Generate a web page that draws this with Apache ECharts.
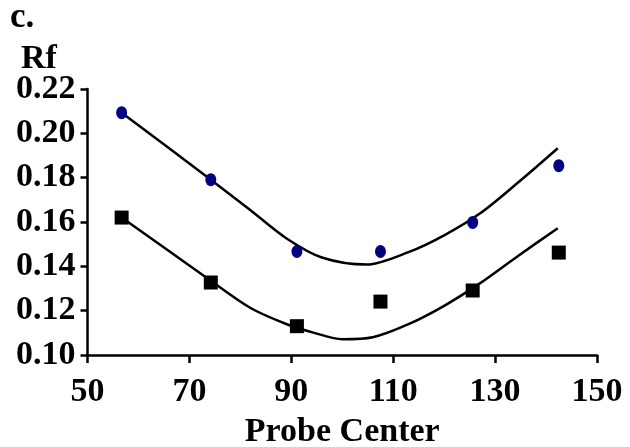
<!DOCTYPE html>
<html>
<head>
<meta charset="utf-8">
<script src="https://cdn.jsdelivr.net/npm/echarts@6/dist/echarts.min.js"></script>
<style>html,body{margin:0;padding:0;background:#fff}#c{width:630px;height:447px}</style>
</head>
<body>
<div id="c"></div>
<script>
// Measured points
const xValues = [56.7, 74.2, 91.1, 107.5, 125.6, 142.5];
const circleValues = [0.2093, 0.1791, 0.1467, 0.1467, 0.1598, 0.1854];
const squareValues = [0.1620, 0.1327, 0.1130, 0.1241, 0.1291, 0.1462];
// Trend curves
const upperCurveX = [56.7, 65.5, 74.2, 82, 89, 96, 104.8, 113, 120, 127, 134.5, 142.3];
const upperCurve  = [0.2093, 0.1942, 0.1791, 0.1653, 0.1527, 0.1440, 0.1408, 0.1464, 0.1540, 0.1638, 0.1778, 0.1933];
const lowerCurveX = [56.7, 65.5, 74.2, 82, 89, 94.5, 100, 106, 113, 120, 127, 134.5, 142.3];
const lowerCurve  = [0.1620, 0.1477, 0.1335, 0.1212, 0.1140, 0.1100, 0.1071, 0.1080, 0.1139, 0.1222, 0.1323, 0.1447, 0.1572];
const xTicks = [50, 70, 90, 110, 130, 150];
const yTicks = [0.10, 0.12, 0.14, 0.16, 0.18, 0.20, 0.22];

const pairs = (xs, ys) => xs.map((x, i) => [x, ys[i]]);
const font = 'Liberation Serif';

const chart = echarts.init(document.getElementById('c'), null, {renderer: 'canvas'});
chart.setOption({
  animation: false,
  grid: {left: 87.5, top: 89, right: 33, bottom: 92, containLabel: false, outerBoundsMode: 'none'},
  xAxis: {
    type: 'value', min: xTicks[0], max: xTicks[xTicks.length - 1], interval: 20,
    name: 'Probe Center', nameLocation: 'middle', nameGap: 60,
    nameTextStyle: {fontFamily: font, fontWeight: 'bold', fontSize: 34, color: '#000'},
    axisLine: {onZero: false, lineStyle: {color: '#000', width: 2.5}},
    axisTick: {show: true, length: 8, lineStyle: {color: '#000', width: 2.5}},
    axisLabel: {fontFamily: font, fontWeight: 'bold', fontSize: 34, color: '#000', margin: 20},
    splitLine: {show: false}
  },
  yAxis: {
    type: 'value', min: yTicks[0], max: yTicks[yTicks.length - 1], interval: 0.02,
    axisLine: {show: true, onZero: false, lineStyle: {color: '#000', width: 2.5}},
    axisTick: {show: true, length: 7, lineStyle: {color: '#000', width: 2.5}},
    axisLabel: {fontFamily: font, fontWeight: 'bold', fontSize: 34, color: '#000', margin: 12,
      formatter: v => v.toFixed(2)},
    splitLine: {show: false}
  },
  graphic: [
    {type: 'text', left: 10, top: 0, style: {text: 'c.', font: 'bold 35px "Liberation Serif"', fill: '#000'}},
    {type: 'text', left: 21, top: 42, style: {text: 'Rf', font: 'bold 34px "Liberation Serif"', fill: '#000'}}
  ],
  series: [
    {type: 'line', data: pairs(upperCurveX, upperCurve), smooth: 0.3, showSymbol: false, symbol: 'none',
      lineStyle: {color: '#000', width: 2.5}, z: 2},
    {type: 'line', data: pairs(lowerCurveX, lowerCurve), smooth: 0.3, showSymbol: false, symbol: 'none',
      lineStyle: {color: '#000', width: 2.5}, z: 2},
    {type: 'scatter', data: pairs(xValues, circleValues), symbol: 'circle', symbolSize: [11, 13],
      itemStyle: {color: '#000080', opacity: 1}, z: 3},
    {type: 'scatter', data: pairs(xValues, squareValues), symbol: 'rect', symbolSize: [14, 14],
      itemStyle: {color: '#000', opacity: 1}, z: 3}
  ]
});
</script>
</body>
</html>
